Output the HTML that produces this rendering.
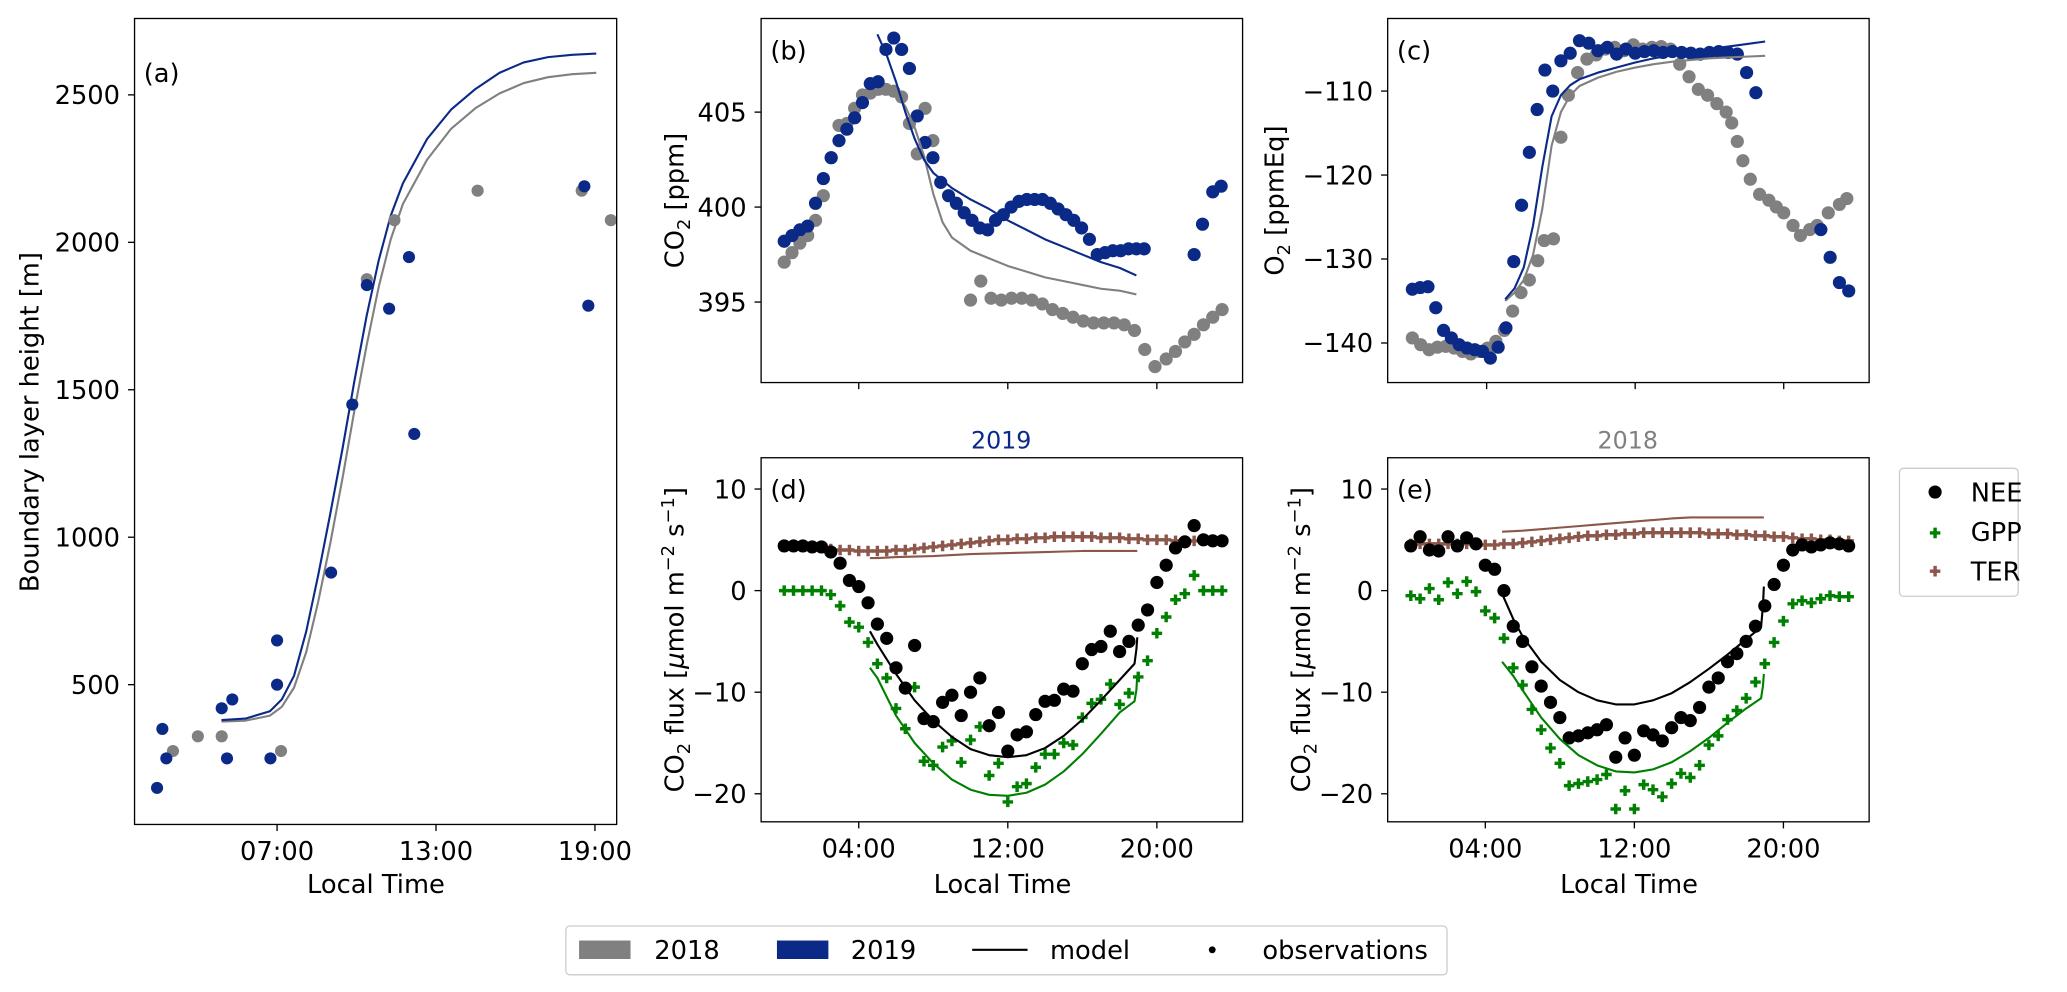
<!DOCTYPE html>
<html><head><meta charset="utf-8"><style>
html,body{margin:0;padding:0;background:#fff;}
svg{display:block;font-family:"DejaVu Sans","Liberation Sans",sans-serif;}
</style></head><body>
<svg id="fig" width="2067" height="992" viewBox="0 0 1567 752" xmlns="http://www.w3.org/2000/svg"></svg>
<script>
// ---------- data ----------
const aBlueT=[2.47,2.67,2.82,4.91,5.31,5.11,6.75,7.0,7.0,9.04,9.84,10.39,11.23,11.98,12.18,18.6,18.75];
const aBlueV=[150,350,250,420,450,250,250,500,650,880,1450,1855,1775,1950,1350,2190,1785];
const aGrayT=[3.07,4.01,4.91,7.15,10.39,11.43,14.57,18.5,19.6];
const aGrayV=[275,325,325,275,1875,2075,2175,2175,2075];
const aModT=[4.90,5.81,6.73,7.18,7.64,8.10,8.55,9.01,9.47,9.92,10.38,10.84,11.29,11.75,12.66,13.57,14.49,15.40,16.31,17.23,18.14,19.05];
const aModBlue=[380,385,410,450,530,680,870,1080,1300,1530,1750,1940,2090,2200,2350,2450,2520,2575,2610,2628,2636,2640];
const aModGray=[375,378,395,425,490,610,780,980,1200,1430,1650,1850,2010,2130,2280,2385,2455,2505,2540,2560,2570,2575];

const bBlueT=[0,0.42,0.84,1.26,1.68,2.1,2.52,2.94,3.36,3.78,4.2,4.62,5.04,5.46,5.88,6.3,6.72,7.14,7.56,7.98,8.4,8.82,9.24,9.66,10.08,10.5,10.92,11.34,11.76,12.18,12.6,13.02,13.44,13.86,14.28,14.7,15.12,15.54,15.96,16.38,16.8,17.22,17.64,18.06,18.48,18.9,19.32,22.0,22.45,23.0,23.45];
const bBlueV=[398.2,398.5,398.8,399.0,400.2,401.5,402.6,403.5,404.1,404.7,405.5,406.5,406.6,408.3,408.9,408.3,407.3,404.8,403.4,402.6,401.3,400.6,400.2,399.7,399.3,398.9,398.8,399.3,399.6,400.0,400.3,400.4,400.4,400.4,400.2,399.9,399.6,399.3,398.9,398.3,397.5,397.6,397.7,397.7,397.8,397.8,397.8,397.5,399.1,400.8,401.1];
const bGrayT=[0,0.42,0.84,1.26,1.68,2.1,2.52,2.94,3.36,3.78,4.2,4.62,5.04,5.46,5.88,6.3,6.72,7.14,7.56,7.98,10,10.55,11.1,11.65,12.2,12.75,13.3,13.85,14.4,14.95,15.5,16.05,16.6,17.15,17.7,18.25,18.8,19.35,19.9,20.5,21.0,21.5,22.0,22.5,23.0,23.5];
const bGrayV=[397.1,397.6,398.1,398.5,399.3,400.6,402.6,404.3,404.4,405.2,405.9,406.0,406.2,406.2,406.1,405.8,404.4,402.8,405.2,403.5,395.1,396.1,395.2,395.1,395.2,395.2,395.1,394.9,394.6,394.4,394.2,394.0,393.9,393.9,393.9,393.8,393.5,392.5,391.6,392.0,392.4,392.9,393.3,393.8,394.2,394.6];
const bModT=[5,5.5,6,6.5,7,7.5,8,8.5,9,10,11,12,13,14,15,16,17,18,18.9];
const bModBlue=[409.1,408.0,406.6,405.0,403.6,402.5,401.8,401.4,401.0,400.4,399.9,399.3,398.8,398.3,397.9,397.5,397.1,396.8,396.4];
const bModGray=[406.0,406.2,406.0,405.3,404.2,402.7,400.7,399.2,398.4,397.7,397.3,396.9,396.6,396.3,396.1,395.9,395.7,395.6,395.4];

const cBlueT=[0,0.42,0.84,1.26,1.68,2.1,2.52,2.94,3.36,3.78,4.2,4.62,5.04,5.46,5.88,6.3,6.72,7.14,7.56,8,8.5,9,9.5,10,10.5,11,11.5,12,12.5,13,13.5,14,14.5,15,15.5,16,16.5,17,17.5,18,18.5,22.0,22.5,23.0,23.5];
const cBlueV=[-133.6,-133.4,-133.3,-135.8,-138.5,-139.4,-140.2,-140.6,-140.8,-141.0,-141.8,-140.5,-138.2,-130.3,-123.6,-117.3,-112.2,-107.5,-110.0,-106.4,-105.5,-104.0,-104.3,-105.2,-104.8,-105.6,-105.0,-105.5,-105.3,-105.2,-105.4,-105.3,-105.4,-105.5,-105.6,-105.4,-105.3,-105.4,-105.6,-107.8,-110.2,-126.5,-129.8,-132.8,-133.8];
const cGrayT=[0,0.45,0.9,1.35,1.8,2.25,2.7,3.15,3.6,4.05,4.5,4.95,5.4,5.85,6.3,6.75,7.1,7.6,8.0,8.4,8.9,9.4,9.9,10.4,10.9,11.4,11.9,12.4,12.9,13.4,13.9,14.4,14.9,15.4,15.9,16.4,16.9,17.2,17.5,17.8,18.2,18.7,19.2,19.6,20.0,20.5,20.9,21.4,21.8,22.4,23.0,23.4];
const cGrayV=[-139.4,-140.2,-140.8,-140.5,-140.4,-140.6,-141.0,-141.3,-141.0,-140.6,-139.8,-138.5,-136.2,-134.0,-132.5,-130.2,-127.8,-127.6,-115.5,-110.5,-107.8,-106.2,-105.7,-105.0,-104.8,-105.2,-104.5,-105.0,-104.8,-104.7,-105.0,-106.8,-108.3,-109.8,-110.5,-111.5,-112.5,-113.8,-116.0,-118.3,-120.5,-122.3,-123.0,-123.8,-124.5,-126.0,-127.2,-126.5,-126.0,-124.5,-123.5,-122.8];
const cModT=[5,5.5,6,6.5,7,7.5,8,8.5,9,10,11,12,13,14,15,16,17,18,19];
const cModBlue=[-134.8,-133.5,-131,-126,-119,-113,-110.5,-109.3,-108.6,-107.8,-107.2,-106.6,-106.1,-105.7,-105.3,-105.0,-104.7,-104.4,-104.1];
const cModGray=[-135,-134,-132.5,-129.5,-124,-116.5,-112.5,-110.5,-109.4,-108.4,-107.7,-107.2,-106.8,-106.5,-106.3,-106.1,-106.0,-105.9,-105.8];

const fluxT=[0,0.5,1,1.5,2,2.5,3,3.5,4,4.5,5,5.5,6,6.5,7,7.5,8,8.5,9,9.5,10,10.5,11,11.5,12,12.5,13,13.5,14,14.5,15,15.5,16,16.5,17,17.5,18,18.5,19,19.5,20,20.5,21,21.5,22,22.5,23,23.5];
const dNEE=[4.4,4.4,4.4,4.3,4.3,3.8,2.7,1.0,0.4,-1.2,-3.3,-4.7,-7.6,-9.6,-5.4,-12.6,-12.9,-11.0,-10.3,-12.3,-10.0,-8.6,-13.3,-12.0,-15.8,-14.2,-13.9,-12.2,-10.9,-10.8,-9.7,-9.9,-7.2,-5.8,-5.5,-4.0,-6.0,-5.0,-3.4,-1.9,0.8,2.5,4.2,4.8,6.4,5.0,4.9,4.9];
const dGPP=[0,0,0,0,0,-0.4,-1.5,-3.1,-3.6,-5.1,-7.2,-8.6,-11.6,-13.6,-9.5,-16.8,-17.2,-15.4,-14.8,-16.9,-14.7,-13.4,-18.2,-17.0,-20.8,-19.3,-19.0,-17.4,-16.1,-16.1,-15.0,-15.2,-12.5,-11.1,-10.7,-9.2,-11.2,-10.1,-8.5,-6.9,-4.2,-2.6,-0.9,-0.3,1.5,0,0,0];
const dTER=[4.4,4.4,4.3,4.3,4.2,4.1,4.0,4.0,3.9,3.9,3.9,3.9,4.0,4.0,4.1,4.2,4.3,4.4,4.5,4.6,4.7,4.8,4.9,5.0,5.0,5.1,5.1,5.2,5.2,5.3,5.3,5.3,5.3,5.3,5.2,5.2,5.2,5.1,5.1,5.0,5.0,5.0,4.9,4.9,4.9,4.9,4.8,4.8];
const eNEE=[4.4,5.3,4.0,3.9,5.3,4.4,5.2,4.6,2.5,2.1,0.0,-3.5,-5.0,-7.5,-9.4,-11.0,-12.5,-14.5,-14.3,-14.0,-13.7,-13.2,-16.4,-14.5,-16.2,-13.8,-14.2,-14.8,-13.5,-12.5,-12.8,-11.5,-9.5,-8.6,-7.0,-6.2,-5.0,-3.5,-1.5,0.6,2.5,4.0,4.5,4.3,4.5,4.7,4.6,4.4];
const eGPP=[-0.5,-0.8,0.2,-0.9,0.8,-0.3,0.9,-0.1,-2.0,-2.7,-4.7,-7.6,-9.3,-11.7,-13.7,-15.5,-17.0,-19.2,-19.0,-18.8,-18.6,-18.1,-21.5,-19.7,-21.5,-19.1,-19.6,-20.3,-19.0,-18.0,-18.4,-17.2,-15.2,-14.3,-12.7,-11.8,-10.6,-9.0,-7.2,-5.1,-3.0,-1.3,-1.0,-1.2,-0.8,-0.5,-0.6,-0.6];
const eTER=[4.6,4.6,4.6,4.6,4.6,4.6,4.6,4.6,4.5,4.5,4.6,4.6,4.7,4.8,4.9,5.0,5.1,5.2,5.3,5.4,5.4,5.5,5.5,5.6,5.6,5.7,5.7,5.7,5.7,5.7,5.7,5.7,5.6,5.6,5.6,5.5,5.5,5.4,5.4,5.3,5.3,5.2,5.1,5.1,5.0,5.0,4.9,4.9];
const dModT=[4.6,5,6,7,8,9,10,11,12,13,14,15,16,17,18,18.8,18.9,18.95];
const dModNEE=[-4.0,-5.3,-8.2,-10.8,-12.8,-14.4,-15.6,-16.2,-16.4,-16.2,-15.5,-14.3,-12.7,-10.8,-8.8,-7.2,-5.8,-4.6];
const dModGPP=[-7.6,-8.6,-12.3,-15.0,-17.0,-18.6,-19.6,-20.1,-20.2,-19.9,-19.1,-17.8,-16.1,-14.1,-12.0,-10.9,-9.8,-8.3];
const dModTER=[3.2,3.2,3.3,3.35,3.4,3.5,3.6,3.65,3.7,3.75,3.8,3.85,3.9,3.9,3.9,3.9,3.9,3.9];
const eModT=[4.9,5.5,6,7,8,9,10,11,12,13,14,15,16,17,18,18.8,18.9,18.95];
const eModNEE=[-0.3,-2.8,-4.5,-7.0,-8.8,-10.0,-10.8,-11.2,-11.2,-10.8,-10.1,-9.0,-7.7,-6.3,-4.8,-3.6,-1.5,0.4];
const eModGPP=[-7.0,-8.4,-9.8,-12.5,-14.6,-16.2,-17.2,-17.8,-17.9,-17.6,-16.9,-15.8,-14.5,-13.0,-11.6,-10.6,-9.4,-8.2];
const eModTER=[5.8,5.85,5.9,6.05,6.2,6.35,6.5,6.65,6.8,6.95,7.1,7.2,7.2,7.2,7.2,7.2,7.2,7.2];

const xTicksA=[7,13,19], xLabA=["07:00","13:00","19:00"];
const xTicksB=[4,12,20], xLabB=["04:00","12:00","20:00"];
const yTicksA=[500,1000,1500,2000,2500];
const yTicksB=[395,400,405];
const yTicksC=[-110,-120,-130,-140];
const yTicksD=[10,0,-10,-20];

// ---------- drawing ----------
const NS="http://www.w3.org/2000/svg";
const svg=document.getElementById('fig');
const FS=19.5, SUB=13.5;
const BLUE="#0b2a87", GRAY="#808080", GREEN="#008000", BROWN="#8c564b";
function mk(tag,attrs,parent){const e=document.createElementNS(NS,tag);for(const k in attrs)e.setAttribute(k,attrs[k]);(parent||svg).appendChild(e);return e;}
function panel(name,x0,x1,y0,y1,xd,yd){
  const g=mk('g',{});
  
  
  return {g,x0,x1,y0,y1,sx:v=>x0+(v-xd[0])/(xd[1]-xd[0])*(x1-x0),sy:v=>y1-(v-yd[0])/(yd[1]-yd[0])*(y1-y0)};
}
function frame(p){const r=mk('rect',{x:p.x0,y:p.y0,width:p.x1-p.x0,height:p.y1-p.y0,fill:'none',stroke:'#000','stroke-width':1},p.g);
  
  }
function xticks(p,ticks,labels){ticks.forEach((t,i)=>{const x=p.sx(t);
  mk('line',{x1:x,x2:x,y1:p.y1,y2:p.y1+5,stroke:'#000'},p.g);
  if(labels){const tx=mk('text',{x:x,y:p.y1+27,'text-anchor':'middle','font-size':FS},p.g);tx.textContent=labels[i];
    
    }});}
function yticks(p,ticks,fmt){ticks.forEach(t=>{const y=p.sy(t);
  mk('line',{x1:p.x0-5,x2:p.x0,y1:y,y2:y,stroke:'#000'},p.g);
  const tx=mk('text',{x:p.x0-11,y:y+7,'text-anchor':'end','font-size':FS},p.g);tx.textContent=fmt?fmt(t):String(t);
  
  });}
function dots(p,T,V,col,r,name){T.forEach((t,i)=>{const c=mk('circle',{cx:p.sx(t),cy:p.sy(V[i]),r:r,fill:col},p.g);
  
  });}
function pluses(p,T,V,col,name){T.forEach((t,i)=>{const x=p.sx(t),y=p.sy(V[i]);
  const e=mk('path',{d:`M${x-4},${y}H${x+4}M${x},${y-4}V${y+4}`,stroke:col,'stroke-width':2.6,fill:'none'},p.g);
  
  });}
function line(p,T,V,col,name){const d=T.map((t,i)=>(i?'L':'M')+p.sx(t).toFixed(2)+','+p.sy(V[i]).toFixed(2)).join('');
  const e=mk('path',{d:d,stroke:col,'stroke-width':1.6,fill:'none','stroke-linejoin':'round'},p.g);
  
  }
function txt(s,x,y,opt,name){const e=mk('text',Object.assign({x:x,y:y,'font-size':FS},opt||{}));e.innerHTML=s;
  
  return e;}
const minus=t=>String(t).replace('-','\u2212');

// Panel a
const pa=panel('panel-a-boundary-layer',102,467.5,14,625,[1.62,19.82],[26,2759]);
line(pa,aModT,aModGray,GRAY,'model-2018-line');line(pa,aModT,aModBlue,BLUE,'model-2019-line');
dots(pa,aGrayT,aGrayV,GRAY,4.6,'obs-2018-point');dots(pa,aBlueT,aBlueV,BLUE,4.6,'obs-2019-point');
frame(pa);xticks(pa,xTicksA,xLabA);yticks(pa,yTicksA);
txt('(a)',109,62,{},'panel-label-a');
txt('Boundary layer height [m]',0,0,{'text-anchor':'middle',transform:'translate(29,320) rotate(-90)'},'y-axis-title-a');
txt('Local Time',285,677,{'text-anchor':'middle'},'x-axis-title-a');

// Panel b
const pb=panel('panel-b-co2',577,942,14,290,[-1.24,24.6],[390.76,409.93]);
dots(pb,bGrayT,bGrayV,GRAY,5,'obs-2018-point');dots(pb,bBlueT,bBlueV,BLUE,5,'obs-2019-point');
line(pb,bModT,bModGray,GRAY,'model-2018-line');line(pb,bModT,bModBlue,BLUE,'model-2019-line');
frame(pb);xticks(pb,xTicksB,null);yticks(pb,yTicksB);
txt('(b)',584,45,{},'panel-label-b');
txt(`CO<tspan font-size="${SUB}" dy="5">2</tspan><tspan dy="-5"> [ppm]</tspan>`,0,0,{'text-anchor':'middle',transform:'translate(518,152) rotate(-90)'},'y-axis-title-b');

// Panel c
const pc=panel('panel-c-o2',1052,1417,14,290,[-1.33,24.6],[-144.71,-101.36]);
dots(pc,cGrayT,cGrayV,GRAY,5,'obs-2018-point');dots(pc,cBlueT,cBlueV,BLUE,5,'obs-2019-point');
line(pc,cModT,cModGray,GRAY,'model-2018-line');line(pc,cModT,cModBlue,BLUE,'model-2019-line');
frame(pc);xticks(pc,xTicksB,null);yticks(pc,yTicksC,minus);
txt('(c)',1059,45,{},'panel-label-c');
txt(`O<tspan font-size="${SUB}" dy="5">2</tspan><tspan dy="-5"> [ppmEq]</tspan>`,0,0,{'text-anchor':'middle',transform:'translate(973,152) rotate(-90)'},'y-axis-title-c');

// Panels d, e
function fluxPanel(name,x0,label,NEE,GPP,TER,mT,mN,mG,mR,title,tcol){
  const p=panel(name,x0,x0+365,347,623,[-1.24,24.6],[-22.76,13.08]);
  pluses(p,fluxT,TER,BROWN,'ter-point');
  line(p,mT,mR,BROWN,'ter-model-line');
  pluses(p,fluxT,GPP,GREEN,'gpp-point');
  dots(p,fluxT,NEE,'#000',5,'nee-point');
  line(p,mT,mN,'#000','nee-model-line');line(p,mT,mG,GREEN,'gpp-model-line');
  frame(p);xticks(p,xTicksB,xLabB);yticks(p,yTicksD,minus);
  txt('('+label+')',x0+7,378,{},'panel-label-'+label);
  txt(title,x0+182,340,{'text-anchor':'middle',fill:tcol,'font-size':18},'panel-title-'+label);
  txt(`CO<tspan font-size="${SUB}" dy="5">2</tspan><tspan dy="-5"> flux [</tspan><tspan font-style="italic">μ</tspan>mol m<tspan font-size="${SUB}" dy="-7">−2</tspan><tspan dy="7"> s</tspan><tspan font-size="${SUB}" dy="-7">−1</tspan><tspan dy="7">]</tspan>`,0,0,{'text-anchor':'middle',transform:`translate(${x0-59},485) rotate(-90)`},'y-axis-title-'+label);
  txt('Local Time',x0+183,677,{'text-anchor':'middle'},'x-axis-title-'+label);
}
fluxPanel('panel-d-flux-2019',577,'d',dNEE,dGPP,dTER,dModT,dModNEE,dModGPP,dModTER,'2019',BLUE);
fluxPanel('panel-e-flux-2018',1052,'e',eNEE,eGPP,eTER,eModT,eModNEE,eModGPP,eModTER,'2018',GRAY);

// Right legend
const lg=mk('g',{});


mk('rect',{x:1440,y:355,width:90,height:97,rx:3,fill:'#fff',stroke:'#ccc'},lg);
mk('circle',{cx:1467,cy:373,r:5,fill:'#000'},lg);
mk('path',{d:'M1463,404H1471M1467,400V408',stroke:GREEN,'stroke-width':2.6},lg);
mk('path',{d:'M1463,433H1471M1467,429V437',stroke:BROWN,'stroke-width':2.6},lg);
[['NEE',380],['GPP',410],['TER',440]].forEach(a=>{const t=mk('text',{x:1494,y:a[1],'font-size':FS},lg);t.textContent=a[0];
  
  });

// Bottom legend
const bl=mk('g',{});


mk('rect',{x:429,y:702,width:668,height:37,rx:3,fill:'#fff',stroke:'#ccc'},bl);
mk('rect',{x:439,y:713,width:39,height:14,fill:GRAY},bl);
mk('rect',{x:589,y:713,width:39,height:14,fill:BLUE},bl);
mk('line',{x1:737,x2:779,y1:720,y2:720,stroke:'#000','stroke-width':1.6},bl);
mk('circle',{cx:919,cy:720,r:2.6,fill:'#000'},bl);
[['2018',496],['2019',645],['model',796],['observations',957]].forEach(a=>{const t=mk('text',{x:a[1],y:727,'font-size':FS},bl);t.textContent=a[0];
  
  });
</script>
</body></html>
